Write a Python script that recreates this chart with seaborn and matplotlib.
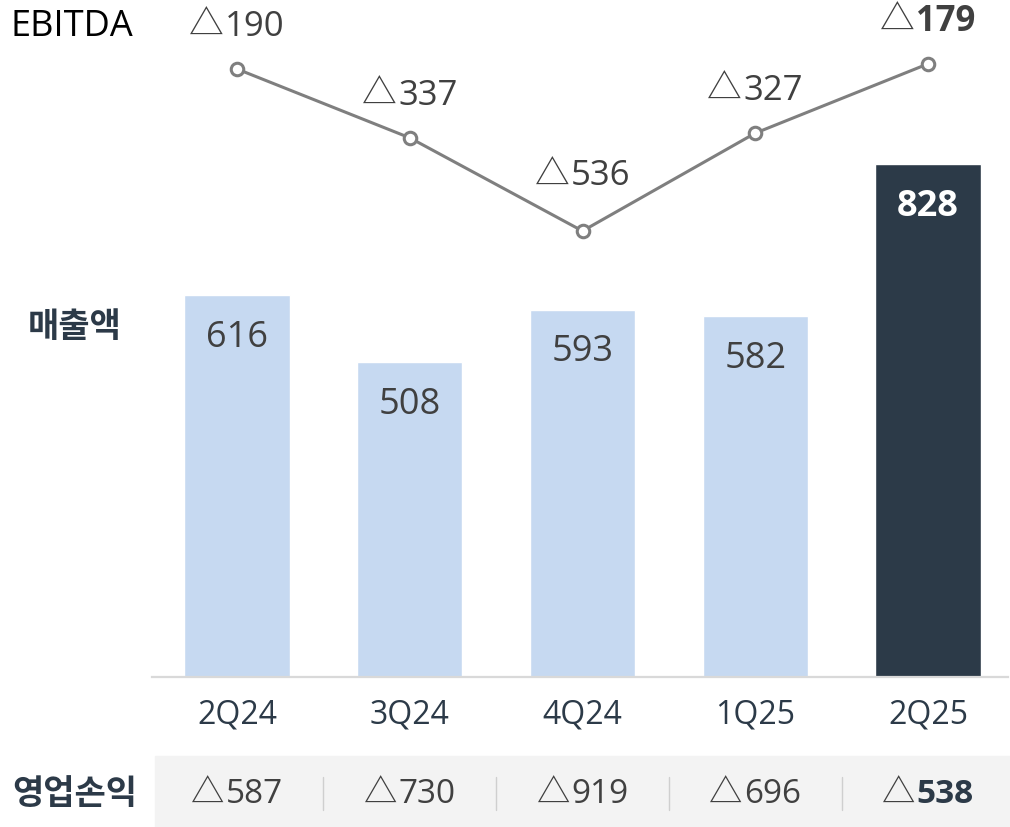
import matplotlib
matplotlib.use("Agg")
from matplotlib import pyplot as plt
from matplotlib import transforms
from matplotlib.patches import Rectangle
from matplotlib.offsetbox import TextArea, HPacker, AnnotationBbox
import seaborn as sns
import pandas as pd

quarters = ["2Q24", "3Q24", "4Q24", "1Q25", "2Q25"]
revenue = [616, 508, 593, 582, 828]
ebitda = [-190, -337, -536, -327, -179]
op_profit = [-587, -730, -919, -696, -538]

LIGHT = "#c6d9f1"
NAVY = "#2c3a48"
GRAY_TXT = "#404040"
LINE = "#7f7f7f"

sns.set_theme(style="white")
plt.rcParams["font.family"] = ["Open Sans", "Noto Sans CJK KR", "DejaVu Sans"]

df = pd.DataFrame({"quarter": quarters, "revenue": revenue, "ebitda": ebitda})
df["hl"] = ["past"] * (len(quarters) - 1) + ["latest"]

W, H = 1010, 828
fig = plt.figure(figsize=(W / 100, H / 100), dpi=100)
ax = fig.add_axes([152 / W, 150 / H, (1008 - 152) / W, 678 / H])

# bottom gray band for operating profit row
fig.patches.append(Rectangle((155 / W, 0), (W - 155) / W, 71 / H,
                             transform=fig.transFigure, color="#f3f3f3", zorder=0))

sns.barplot(data=df, x="quarter", y="revenue", hue="hl",
            palette={"past": LIGHT, "latest": NAVY}, width=0.61,
            legend=False, ax=ax, saturation=1)
ax.set_xlim(-0.492, 4.463)
ax.set_ylim(0, 828 * 678 / 513)
ax.set_xlabel("")
ax.set_ylabel("")
ax.set_yticks([])
for s in ["left", "right", "top"]:
    ax.spines[s].set_visible(False)
ax.spines["bottom"].set_color("#d9d9d9")
ax.spines["bottom"].set_linewidth(1.6)
ax.tick_params(axis="x", length=0, pad=15, labelsize=23, labelcolor=NAVY)
for lbl in ax.get_xticklabels():
    lbl.set_fontweight("medium")

for i, v in enumerate(revenue):
    last = i == len(revenue) - 1
    ax.annotate(f"{v}", (i, v), xytext=(0, -30), textcoords="offset points",
                ha="center", va="center", fontsize=26,
                color="white" if last else GRAY_TXT,
                fontweight="bold" if last else "normal")

# EBITDA line on its own scale
ax2 = ax.twinx()
sns.lineplot(data=df, x="quarter", y="ebitda", ax=ax2, color=LINE, lw=2.2,
             marker="o", markersize=9, markerfacecolor="white",
             markeredgecolor=LINE, markeredgewidth=2.2)
ax2.set_ylim(-1488.6, -40.5)
ax2.set_xlim(ax.get_xlim())
ax2.axis("off")


def delta_label(num, bold, num_color, size):
    tri = TextArea("△", textprops=dict(fontsize=size, color=GRAY_TXT))
    val = TextArea(f"{abs(num)}", textprops=dict(fontsize=size, color=num_color,
                                                 fontweight="bold" if bold else "normal"))
    return HPacker(children=[tri, val], pad=0, sep=1, align="baseline")


for i, v in enumerate(ebitda):
    last = i == len(ebitda) - 1
    # a label sitting in a dip of the line is lifted clear of both segments
    dip = 0 < i < len(ebitda) - 1 and v < ebitda[i - 1] and v < ebitda[i + 1]
    box = delta_label(v, last, GRAY_TXT, 25)
    ab = AnnotationBbox(box, (i, v), xybox=(0, 40 if dip else 31),
                        boxcoords="offset points", frameon=False,
                        box_alignment=(0.5, 0.5), xycoords="data")
    ax2.add_artist(ab)

# operating profit row
blend = transforms.blended_transform_factory(ax.transData, fig.transFigure)
for i, v in enumerate(op_profit):
    last = i == len(op_profit) - 1
    box = delta_label(v, last, NAVY if last else GRAY_TXT, 24)
    ab = AnnotationBbox(box, (i, 1 - 795 / H), xycoords=blend, frameon=False,
                        box_alignment=(0.5, 0.5), annotation_clip=False)
    fig.add_artist(ab)
for i in range(len(op_profit) - 1):
    fig.add_artist(plt.Line2D([i + 0.5, i + 0.5], [1 - 811 / H, 1 - 778 / H],
                              transform=blend, color="#cfcfcf", lw=1))

fig.text(10 / W, 1 - 27 / H, "EBITDA", fontsize=26, color="black",
         ha="left", va="center")
fig.text(28 / W, 1 - 328 / H, "매출액", fontsize=24.5, color=NAVY,
         fontweight="bold", ha="left", va="center")
fig.text(12 / W, 1 - 795 / H, "영업손익", fontsize=24.5, color=NAVY,
         fontweight="bold", ha="left", va="center")

fig.savefig("out.png", dpi=100)
